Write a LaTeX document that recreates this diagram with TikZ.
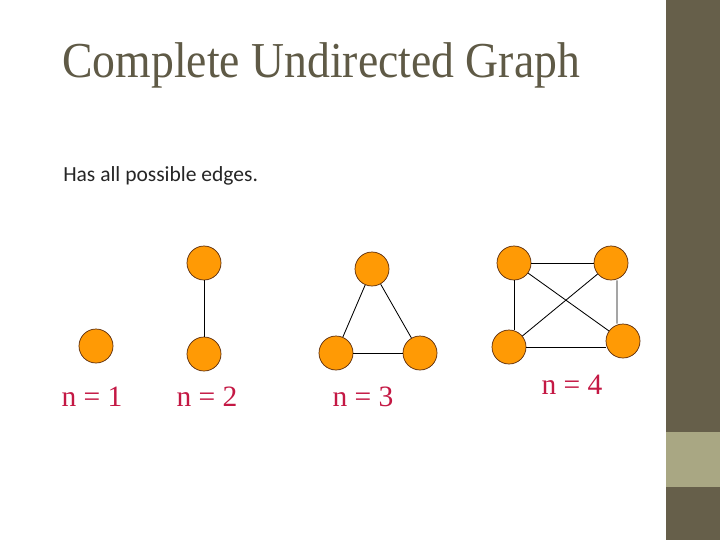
\documentclass[tikz,border=0pt]{standalone}
\usepackage{fontspec}
\setmainfont{Liberation Serif}
\newfontfamily\bodyfont{Carlito}
\usepackage{xcolor}
\usepackage{tikz}
\usetikzlibrary{positioning}

\definecolor{barDark}{HTML}{665F4A}
\definecolor{barLight}{HTML}{A9A783}
\definecolor{titleGray}{HTML}{5F5A46}
\definecolor{vtxOrange}{HTML}{FF9A05}
\definecolor{vtxEdge}{HTML}{5A2A0A}
\definecolor{lblRed}{HTML}{C41844}

\begin{document}
\begin{tikzpicture}[
    x=0.025cm, y=-0.025cm,
    vtx/.style={circle, draw=vtxEdge, fill=vtxOrange, line width=0.5pt,
      minimum size=0.85cm, inner sep=0pt},
    edg/.style={draw=black, line width=0.6pt},
    lbl/.style={font=\fontsize{21}{24}\selectfont, text=lblRed, anchor=base, inner sep=0pt},
  ]
    % page and side bar
    \useasboundingbox[fill=white] (0,0) rectangle (720,540);
    \fill[barDark] (666,0) rectangle (720,540);
    \fill[barLight] (666,432) rectangle (720,487);

    % heading
    \node[font=\fontsize{32.5}{36}\selectfont, text=titleGray, anchor=base west, inner sep=0pt,
      yscale=1.1] (title) at (62,77) {Complete Undirected Graph};
    \node[font=\bodyfont\fontsize{15.3}{18}\selectfont, text=black!85, anchor=base west, inner sep=0pt]
      (sub) at (63,181) {Has all possible edges.};

    % n = 1
    \node[vtx] (a1) at (96,346) {};
    \node[lbl] (l1) at (92,406) {n = 1};

    % n = 2
    \node[vtx] (b1) at (204,263) {};
    \node[vtx] (b2) at (204,354) {};
    \draw[edg] (b1) -- (b2);
    \node[lbl] (l2) at (207,406) {n = 2};

    % n = 3
    \node[vtx] (c1) at (372,269) {};
    \node[vtx] (c2) at (336,353) {};
    \node[vtx] (c3) at (420,353) {};
    \draw[edg] (c1) -- (c2);
    \draw[edg] (c1) -- (c3);
    \draw[edg] (c2) -- (c3);
    \node[lbl] (l3) at (363,406) {n = 3};

    % n = 4 (sides kept straight)
    \node[vtx] (d1) at (514,263) {};
    \node[vtx] (d2) at (611,263) {};
    \node[vtx] (d3) at (509,347) {};
    \node[vtx] (d4) at (623,341) {};
    \draw[edg] (d1) -- (d2);
    \draw[edg] (d1) -- (d1 |- d3.north);
    \draw[edg] ([xshift=0.15cm]d2.south) -- ([xshift=-0.15cm]d4.north);
    \draw[edg] (d3.east) -- (d4.west |- d3.east);
    \draw[edg] (d1) -- (d4);
    \draw[edg] (d2) -- (d3);
    \node[lbl] (l4) at (572,394) {n = 4};
  \end{tikzpicture}
\end{document}
